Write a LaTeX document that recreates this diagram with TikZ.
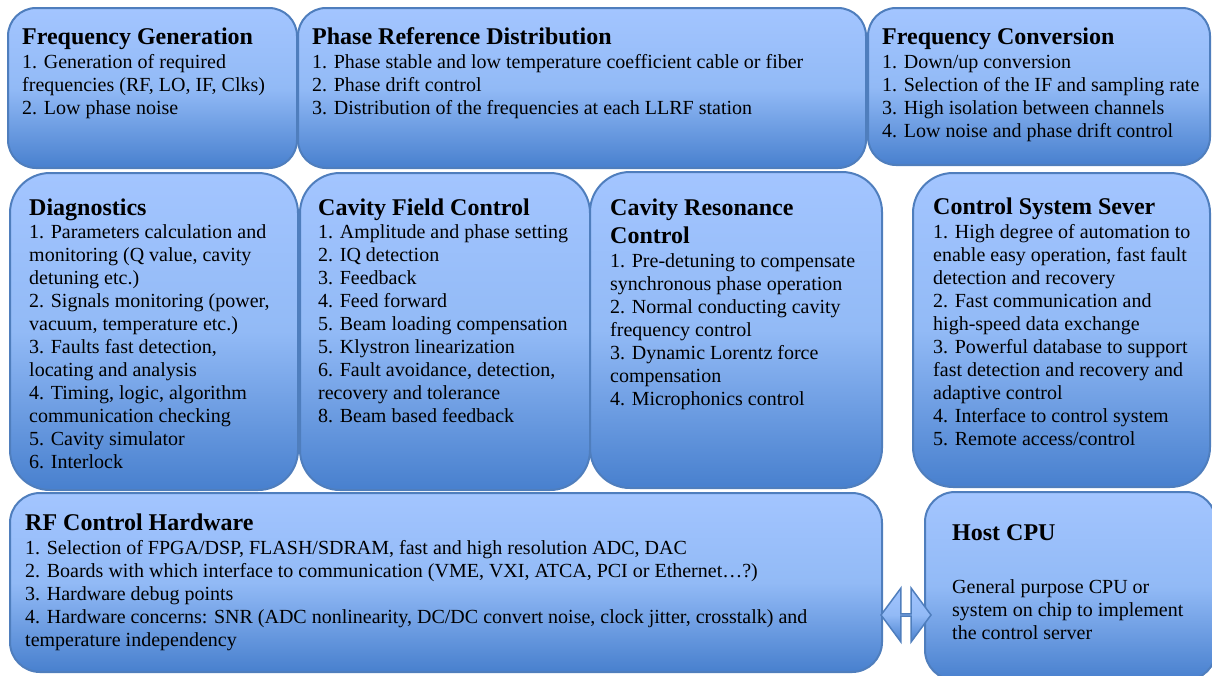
\documentclass[tikz,border=0pt]{standalone}
\usepackage{fontspec}
\setmainfont{Liberation Serif}
\usetikzlibrary{shapes.arrows}

\definecolor{boxtop}{RGB}{163,197,255}
\definecolor{boxmid}{RGB}{146,186,246}
\definecolor{boxbot}{RGB}{72,128,206}
\definecolor{boxline}{RGB}{79,126,189}

\begin{document}
\begin{tikzpicture}[x=1pt, y=-1pt,
    panel/.style={draw=boxline, line width=2pt, rounded corners=#1,
        top color=boxtop, bottom color=boxbot, middle color=boxmid, inner sep=0pt},
    heading/.style={anchor=base west, inner sep=0pt, align=left,
        font=\fontsize{24}{28}\selectfont\bfseries},
    items/.style={anchor=base west, inner sep=0pt, align=left,
        font=\fontsize{20}{23}\selectfont}]
    \useasboundingbox (0,0) rectangle (1212,675);
    \clip (0,0) rectangle (1212,675);

    % Top row
    \node[panel=28, minimum width=289, minimum height=160] (fgen) at (152.5,88) {};
    \node[panel=28, minimum width=568, minimum height=160] (prd) at (582,88) {};
    \node[panel=28, minimum width=342, minimum height=157] (fconv) at (1039,86.5) {};

    % Middle row
    \node[panel=40, minimum width=288, minimum height=317] (diag) at (154,331.5) {};
    \node[panel=40, minimum width=290, minimum height=317] (cfc) at (445,331.5) {};
    \node[panel=40, minimum width=292, minimum height=316] (crc) at (736,330) {};
    \node[panel=40, minimum width=297, minimum height=314] (css) at (1061.5,330) {};

    % Bottom row
    \node[panel=30, minimum width=872, minimum height=179] (rfhw) at (446,582.5) {};
    \node[panel=30, minimum width=291, minimum height=188] (host) at (1070.5,586) {};

    % Link between hardware and CPU
    \node[double arrow, draw=boxline, line width=1.5pt, top color=boxtop, bottom color=boxbot,
        middle color=boxmid, inner sep=0pt, minimum width=54, minimum height=50,
        double arrow head extend=17, double arrow tip angle=107] (link) at (906,615) {};

    % Texts (anchored at the baseline of the last line)
    \node[heading] (fgen-t) at (22,44) {Frequency Generation};
    \node[items] (fgen-b) at (22,114) {1. Generation of required\\
        frequencies (RF, LO, IF, Clks)\\2. Low phase noise};

    \node[heading] (prd-t) at (312,44) {Phase Reference Distribution};
    \node[items] (prd-b) at (312,114) {1. Phase stable and low temperature coefficient cable or fiber\\
        2. Phase drift control\\3. Distribution of the frequencies at each LLRF station};

    \node[heading] (fconv-t) at (882,44) {Frequency Conversion};
    \node[items] (fconv-b) at (882,137) {1. Down/up conversion\\
        1. Selection of the IF and sampling rate\\3. High isolation between channels\\
        4. Low noise and phase drift control};

    \node[heading] (diag-t) at (29,215) {Diagnostics};
    \node[items] (diag-b) at (29,468) {1. Parameters calculation and\\
        monitoring (Q value, cavity\\detuning etc.)\\
        2. Signals monitoring (power,\\vacuum, temperature etc.)\\
        3. Faults fast detection,\\locating and analysis\\
        4. Timing, logic, algorithm\\communication checking\\
        5. Cavity simulator\\6. Interlock};

    \node[heading] (cfc-t) at (318,215) {Cavity Field Control};
    \node[items] (cfc-b) at (318,422) {1. Amplitude and phase setting\\
        2. IQ detection\\3. Feedback\\4. Feed forward\\
        5. Beam loading compensation\\5. Klystron linearization\\
        6. Fault avoidance, detection,\\recovery and tolerance\\
        8. Beam based feedback};

    \node[heading] (crc-t) at (610,243) {Cavity Resonance\\Control};
    \node[items] (crc-b) at (610,405) {1. Pre-detuning to compensate\\
        synchronous phase operation\\2. Normal conducting cavity\\
        frequency control\\3. Dynamic Lorentz force\\
        compensation\\4. Microphonics control};

    \node[heading] (css-t) at (933,214) {Control System Sever};
    \node[items] (css-b) at (933,445) {1. High degree of automation to\\
        enable easy operation, fast fault\\detection and recovery\\
        2. Fast communication and\\high-speed data exchange\\
        3. Powerful database to support\\fast detection and recovery and\\
        adaptive control\\4. Interface to control system\\
        5. Remote access/control};

    \node[heading] (rfhw-t) at (25,530) {RF Control Hardware};
    \node[items] (rfhw-b) at (25,646) {1. Selection of FPGA/DSP, FLASH/SDRAM, fast and high resolution ADC, DAC\\
        2. Boards with which interface to communication (VME, VXI, ATCA, PCI or Ethernet…?)\\
        3. Hardware debug points\\
        4. Hardware concerns: SNR (ADC nonlinearity, DC/DC convert noise, clock jitter, crosstalk) and\\
        temperature independency};

    \node[heading] (host-t) at (952,540) {Host CPU};
    \node[items] (host-b) at (952,639) {General purpose CPU or\\
        system on chip to implement\\the control server};
\end{tikzpicture}
\end{document}
